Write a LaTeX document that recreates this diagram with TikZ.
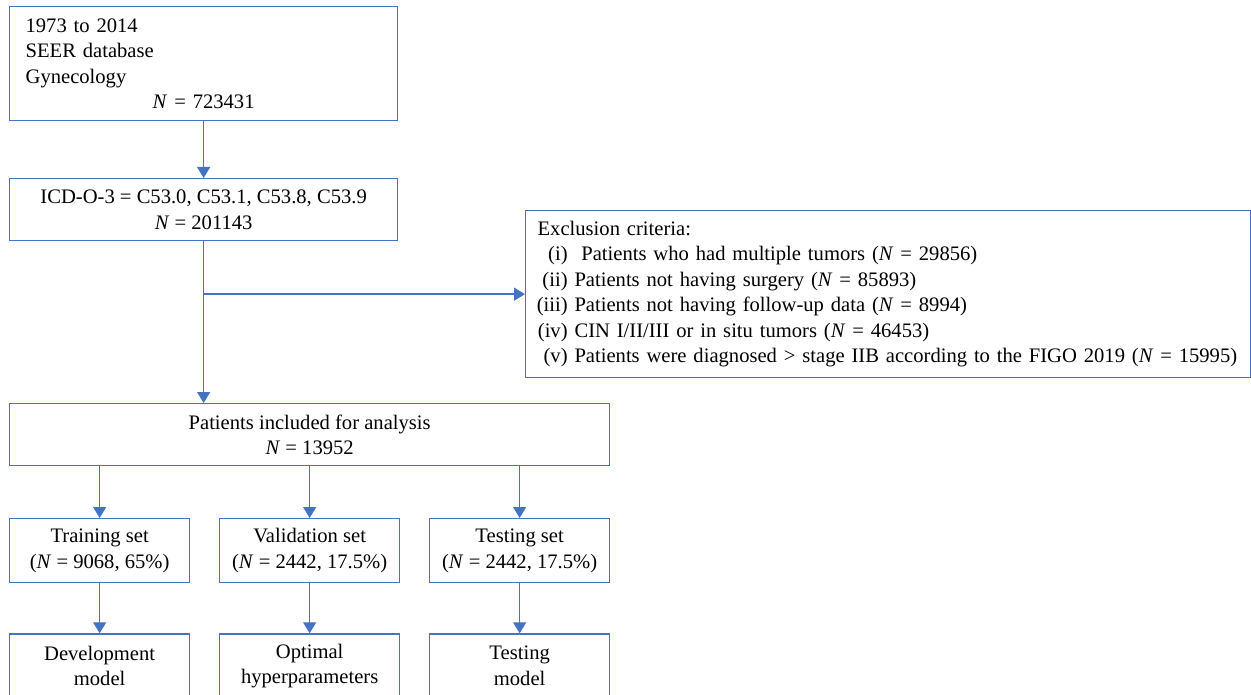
\documentclass[tikz,border=0pt]{standalone}
\usepackage{fontspec}
\setmainfont{Liberation Serif}
\usetikzlibrary{arrows.meta,positioning}
\definecolor{flowblue}{HTML}{4472C4}
\newcommand{\Nn}{\textit{N}}
\newcommand{\itm}[1]{\makebox[30pt][r]{#1}\ }

\begin{document}
\begin{tikzpicture}[x=1pt,y=-1pt,
    font=\fontsize{20.6}{25.5}\selectfont,
    box/.style={rectangle,draw=flowblue,line width=1.3pt,align=center,inner sep=0pt,anchor=north west},
    setbox/.style={box,minimum width=180pt,minimum height=64pt},
    arrow/.style={flowblue,line width=1.3pt,-{Triangle[width=13pt,length=11pt]}}
]
    \useasboundingbox (0,0) rectangle (1251,695);

    % Selection of the cohort
    \node[box,align=left,text width=356pt,inner xsep=16pt,minimum height=114pt] (seer) at (9,6)
        {1973 to 2014\\SEER database\\Gynecology\\\makebox[\linewidth]{\Nn{} = 723431}};
    \node[box,minimum width=388pt,minimum height=62pt] (icd) at (9,178)
        {ICD-O-3 = C53.0, C53.1, C53.8, C53.9\\\Nn{} = 201143};
    \node[box,align=left,text width=701pt,inner xsep=12pt,minimum height=167pt] (excl) at (525,210)
        {Exclusion criteria:\\
         \itm{(i)}\ Patients who had multiple tumors (\Nn{} = 29856)\\
         \itm{(ii)}Patients not having surgery (\Nn{} = 85893)\\
         \itm{(iii)}Patients not having follow-up data (\Nn{} = 8994)\\
         \itm{(iv)}CIN I/II/III or in situ tumors (\Nn{} = 46453)\\
         \itm{(v)}Patients were diagnosed > stage IIB according to the FIGO 2019 (\Nn{} = 15995)};
    \node[box,minimum width=600pt,minimum height=62pt] (incl) at (9,403)
        {Patients included for analysis\\\Nn{} = 13952};

    % Data split
    \node[setbox] (train) at (9,518) {Training set\\(\Nn{} = 9068, 65\%)};
    \node[setbox,right=28.7pt of train] (valid) {Validation set\\(\Nn{} = 2442, 17.5\%)};
    \node[setbox,right=28.7pt of valid] (test) {Testing set\\(\Nn{} = 2442, 17.5\%)};

    % Outcomes
    \node[setbox,below=50pt of train] (dev) {Development\\model};
    \node[setbox,below=50pt of valid] (opt) {Optimal\\hyperparameters};
    \node[setbox,below=50pt of test] (tmod) {Testing\\model};

    % Arrows
    \draw[arrow] (seer.south) -- (icd.north);
    \draw[arrow] (icd.south) -- (icd.south |- incl.north);
    \draw[arrow] (icd.south |- excl.west) -- (excl.west);
    \foreach \s/\m in {train/dev,valid/opt,test/tmod} {
        \draw[arrow] (incl.south -| \s.north) -- (\s.north);
        \draw[arrow] (\s.south) -- (\m.north);
    }
\end{tikzpicture}
\end{document}
